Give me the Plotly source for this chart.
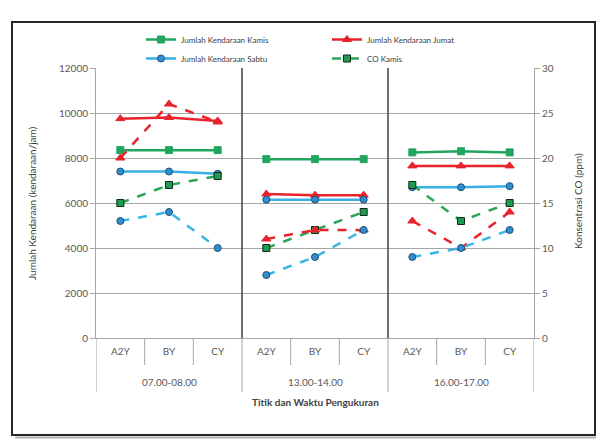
import plotly.graph_objects as go

# ---- data ----
groups = ["07.00-08.00", "13.00-14.00", "16.00-17.00"]
points = ["A2Y", "BY", "CY"]

kendaraan_kamis = [8350, 8350, 8350, 7950, 7950, 7950, 8250, 8300, 8250]
kendaraan_jumat = [9750, 9800, 9650, 6400, 6350, 6350, 7650, 7650, 7650]
kendaraan_sabtu = [7400, 7400, 7300, 6150, 6150, 6150, 6700, 6700, 6750]
co_kamis = [15, 17, 18, 10, 12, 14, 17, 13, 15]
co_jumat = [20, 26, 24, 11, 12, 12, 13, 10, 14]
co_sabtu = [13, 14, 10, 7, 9, 12, 9, 10, 12]

series = [
    # name, values, axis, line color, dash, marker symbol, marker fill, marker outline, legend id
    ("Jumlah Kendaraan Kamis", kendaraan_kamis, "y", "#22a55f", "solid", "square", "#22a55f", "#22a55f", "legend"),
    ("Jumlah Kendaraan Jumat", kendaraan_jumat, "y", "#e8232b", "solid", "triangle-up", "#e8232b", "#e8232b", "legend2"),
    ("Jumlah Kendaraan Sabtu", kendaraan_sabtu, "y", "#38b0e3", "solid", "circle", "#2e8fcf", "#1f4e79", "legend"),
    ("CO Kamis", co_kamis, "y2", "#2aa55a", "dash", "square", "#1e9b50", "#0d2b17", "legend2"),
    ("CO Jumat", co_jumat, "y2", "#e8232b", "dash", "triangle-up", "#e8232b", "#e8232b", None),
    ("CO Sabtu", co_sabtu, "y2", "#38b4e6", "dash", "circle", "#2e8fcf", "#1f4e79", None),
]

# page body has an 8px margin; geometry below is in screenshot pixels
OFF = 8
W, H = 604 - OFF, 444 - OFF
PL, PR, PT, PB = 96, 534, 68, 338  # plot area edges in screenshot pixels
ML, MR, MT, MB = PL - OFF, W - (PR - OFF), PT - OFF, H - (PB - OFF)
PW, PH = PR - PL, PB - PT


def py(p):  # screenshot pixel y -> paper y
    return (PB - p) / PH


def px(p):  # screenshot pixel x -> paper x
    return (p - PL) / PW


n = len(points)
positions = list(range(len(groups) * n))
ticktext = points * len(groups)

fig = go.Figure()
for name, vals, ax, lc, dash, sym, mf, mo, leg in series:
    for gi, g in enumerate(groups):
        seg = vals[gi * n:(gi + 1) * n]
        xs = positions[gi * n:(gi + 1) * n]
        fig.add_trace(go.Scatter(
            x=xs,
            y=seg,
            yaxis=ax,
            mode="lines+markers",
            name=name,
            legendgroup=name,
            legend=leg if leg else "legend",
            showlegend=(leg is not None and gi == 0),
            line=dict(color=lc, width=2.5, dash=dash),
            marker=dict(symbol=sym, size=7 if sym != "triangle-up" else 8,
                        color=mf, line=dict(color=mo, width=1)),
        ))

font_family = "Lato, 'Liberation Sans', Arial, sans-serif"
tick_font = dict(family=font_family, size=10, color="#595959")
leg_font = dict(family=font_family, size=8, color="#404040")
title_font = dict(family=font_family, size=10, color="#404040")

shapes = []
# boundary lines below the axis
for k in range(len(positions) + 1):
    xb = k - 0.5
    is_group = (k % n == 0)
    shapes.append(dict(type="line", xref="x", yref="paper", x0=xb, x1=xb,
                       y0=0, y1=py(392 if is_group else 365),
                       line=dict(color="#a6a6a6", width=1)))
    if is_group and 0 < k < len(positions):
        shapes.append(dict(type="line", xref="x", yref="paper", x0=xb, x1=xb,
                           y0=0, y1=1, line=dict(color="#404040", width=1.5)))
# outer frame with a light shadow
shapes.append(dict(type="path", xref="paper", yref="paper",
                   path=f"M {px(15)},{py(437.5)} L {px(597.5)},{py(437.5)} L {px(597.5)},{py(25)}",
                   line=dict(color="#b0b0b0", width=2), layer="below"))
shapes.append(dict(type="rect", xref="paper", yref="paper",
                   x0=px(12), x1=px(595), y0=py(435), y1=py(22),
                   line=dict(color="#262626", width=2), layer="below"))

annotations = [
    dict(text=g, xref="x", yref="paper", x=positions[gi * n + 1], y=py(382),
         xanchor="center", yanchor="middle", showarrow=False, font=tick_font)
    for gi, g in enumerate(groups)
]
annotations += [
    dict(text="<b>Titik dan Waktu Pengukuran</b>", xref="paper", yref="paper",
         x=px(315), y=py(402), xanchor="center", yanchor="middle", showarrow=False,
         font=title_font),
    dict(text="Jumlah Kendaraan (kendaraan/jam)", xref="paper", yref="paper",
         x=px(32), y=py(203), xanchor="center", yanchor="middle", showarrow=False,
         textangle=-90, font=title_font),
    dict(text="Konsentrasi CO (ppm)", xref="paper", yref="paper",
         x=px(578), y=py(201), xanchor="center", yanchor="middle", showarrow=False,
         textangle=-90, font=title_font),
]

fig.update_layout(
    width=W,
    height=H,
    margin=dict(l=ML, r=MR, t=MT, b=MB, autoexpand=False),
    paper_bgcolor="white",
    plot_bgcolor="white",
    font=dict(family=font_family, color="#404040"),
    showlegend=True,
    legend=dict(orientation="v", xref="container", yref="container",
                x=(141 - OFF) / W, y=1 - (25 - OFF) / H, xanchor="left", yanchor="top",
                font=leg_font, tracegroupgap=0, itemwidth=30, bgcolor="rgba(0,0,0,0)"),
    legend2=dict(orientation="v", xref="container", yref="container",
                 x=(327 - OFF) / W, y=1 - (25 - OFF) / H, xanchor="left", yanchor="top",
                 font=leg_font, tracegroupgap=0, itemwidth=30, bgcolor="rgba(0,0,0,0)"),
    xaxis=dict(
        range=[-0.5, len(positions) - 0.5],
        tickvals=positions,
        ticktext=ticktext,
        showgrid=False,
        zeroline=False,
        showline=True,
        linecolor="#a6a6a6",
        linewidth=1,
        ticks="outside",
        ticklen=4,
        tickcolor="rgba(0,0,0,0)",
        tickfont=tick_font,
    ),
    yaxis=dict(
        range=[0, 12000],
        dtick=2000,
        tickformat="d",
        showgrid=True,
        gridcolor="#a6a6a6",
        gridwidth=1,
        zeroline=False,
        showline=True,
        linecolor="#a6a6a6",
        ticks="outside",
        ticklen=5,
        tickcolor="#a6a6a6",
        tickfont=tick_font,
    ),
    yaxis2=dict(
        range=[0, 30],
        dtick=5,
        overlaying="y",
        side="right",
        showgrid=False,
        zeroline=False,
        showline=True,
        linecolor="#a6a6a6",
        ticks="outside",
        ticklen=5,
        tickcolor="#a6a6a6",
        tickfont=tick_font,
    ),
    annotations=annotations,
    shapes=shapes,
)

fig.write_html("out.html")
